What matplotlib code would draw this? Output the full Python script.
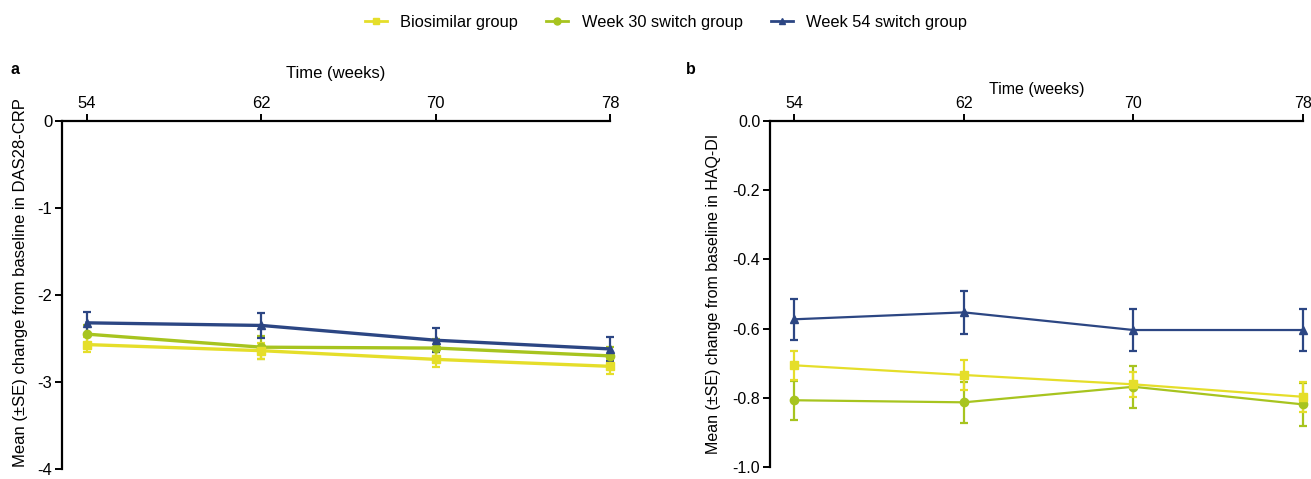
import numpy as np
import matplotlib
matplotlib.use("Agg")
import matplotlib.pyplot as plt
from matplotlib.lines import Line2D

plt.rcParams['font.family'] = ['Liberation Sans', 'DejaVu Sans']
plt.rcParams['axes.unicode_minus'] = False

weeks = [54, 62, 70, 78]
groups = ["Biosimilar group", "Week 30 switch group", "Week 54 switch group"]
colors = ["#e5de2a", "#a7c41f", "#2c4683"]
markers = ["s", "o", "^"]

# panel a: DAS28-CRP
das_mean = {
    "Biosimilar group": [-2.57, -2.64, -2.74, -2.82],
    "Week 30 switch group": [-2.45, -2.60, -2.61, -2.70],
    "Week 54 switch group": [-2.32, -2.35, -2.52, -2.62],
}
das_se = {
    "Biosimilar group": [0.09, 0.09, 0.09, 0.09],
    "Week 30 switch group": [0.11, 0.13, 0.10, 0.10],
    "Week 54 switch group": [0.13, 0.14, 0.14, 0.14],
}

# panel b: HAQ-DI
haq_mean = {
    "Biosimilar group": [-0.706, -0.734, -0.761, -0.797],
    "Week 30 switch group": [-0.807, -0.813, -0.768, -0.819],
    "Week 54 switch group": [-0.573, -0.553, -0.604, -0.604],
}
haq_se = {
    "Biosimilar group": [0.042, 0.042, 0.037, 0.043],
    "Week 30 switch group": [0.057, 0.060, 0.061, 0.061],
    "Week 54 switch group": [0.060, 0.062, 0.060, 0.061],
}

fig = plt.figure(figsize=(13.11, 4.79), dpi=100)
ax_a = fig.add_axes([0.0473, 0.0209, 0.418, 0.7265])
ax_b = fig.add_axes([0.5873, 0.025, 0.4066, 0.7223])

draw_order = [1, 0, 2]


def draw_panel(ax, means, ses, lw, ylim, yticks, yfmt, ylabel, fs):
    for i in draw_order:
        g = groups[i]
        ax.errorbar(weeks, means[g], yerr=ses[g], color=colors[i], marker=markers[i],
                    markersize=6, lw=lw, elinewidth=1.6, capsize=3, capthick=1.6,
                    label=g, clip_on=False)
    ax.set_xlim(52.85, 78)
    ax.set_ylim(*ylim)
    ax.set_xticks(weeks)
    ax.set_yticks(yticks)
    ax.set_yticklabels([yfmt.format(v) for v in yticks])
    ax.xaxis.tick_top()
    ax.xaxis.set_label_position('top')
    ax.spines['right'].set_visible(False)
    ax.spines['bottom'].set_visible(False)
    ax.spines['left'].set_linewidth(1.6)
    ax.spines['top'].set_linewidth(1.6)
    ax.tick_params(axis='both', direction='out', length=5, width=1.4, labelsize=fs, pad=2)
    ax.set_xlabel("Time (weeks)", fontsize=fs)
    ax.set_ylabel(ylabel, fontsize=fs)


draw_panel(ax_a, das_mean, das_se, 2.4, (-4, 0), [0, -1, -2, -3, -4], "{:g}",
           "Mean (±SE) change from baseline in DAS28-CRP", 12.0)
ax_a.xaxis.labelpad = 13
ax_a.yaxis.set_label_coords(-0.062, 0.535)

draw_panel(ax_b, haq_mean, haq_se, 1.6, (-1.0, 0.0), [0.0, -0.2, -0.4, -0.6, -0.8, -1.0], "{:.1f}",
           "Mean (±SE) change from baseline in HAQ-DI", 11.5)
ax_b.xaxis.labelpad = 2
ax_b.yaxis.labelpad = 8

fig.text(0.008, 0.845, "a", fontsize=11.5, fontweight='bold')
fig.text(0.523, 0.845, "b", fontsize=11.5, fontweight='bold')

handles = [Line2D([], [], color=colors[i], marker=markers[i], markersize=5, lw=2)
           for i in range(3)]
fig.legend(handles, groups, loc='upper center', bbox_to_anchor=(0.508, 1.0),
           ncol=3, frameon=False, fontsize=11.8, handlelength=1.35, handletextpad=0.8,
           columnspacing=1.75)

fig.savefig("out.png", dpi=100)
